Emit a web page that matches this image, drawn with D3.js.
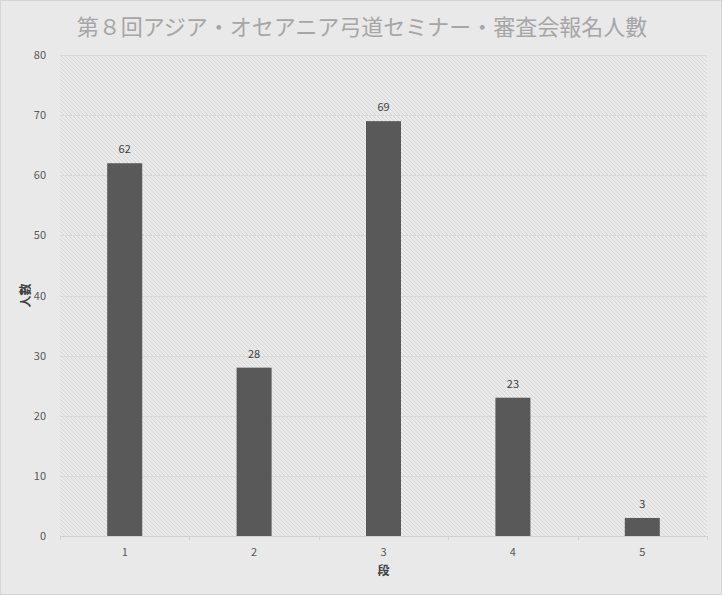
<!DOCTYPE html>
<meta charset="utf-8">
<style>
body { margin: 0; background: #fff; }
text { font-family: "Noto Sans CJK JP", "DejaVu Sans", sans-serif; }
</style>
<body>
<script src="https://d3js.org/d3.v7.min.js"></script>
<script>

var title = "第８回アジア・オセアニア弓道セミナー・審査会報名人數";
var categories = ["1", "2", "3", "4", "5"];
var counts = [62, 28, 69, 23, 3];
var yTicks = [0, 10, 20, 30, 40, 50, 60, 70, 80];

var w = 723, h = 596;
var margin = {top: 55, right: 16, bottom: 60, left: 60};
var width = w - margin.left - margin.right,
    height = h - margin.top - margin.bottom;

var svg = d3.select("body").append("svg")
    .attr("width", w)
    .attr("height", h);

// hatch pattern for plot area
var pat = svg.append("defs").append("pattern")
    .attr("id", "hatch")
    .attr("patternUnits", "userSpaceOnUse")
    .attr("width", 4).attr("height", 4);
pat.append("rect").attr("width", 4).attr("height", 4).attr("fill", "#eaeaea");
pat.append("path")
    .attr("d", "M-1,-1 L5,5 M-1,3 L1,5 M3,-1 L5,1")
    .attr("stroke", "#d6d6d6").attr("stroke-width", 1);

// chart background + border
svg.append("rect")
    .attr("x", 0.5).attr("y", 0.5)
    .attr("width", w - 2).attr("height", h - 2)
    .attr("fill", "#e9e9e9")
    .attr("stroke", "#d6d6d6");

svg.append("text")
    .attr("x", 362).attr("y", 35)
    .attr("text-anchor", "middle")
    .attr("font-size", "22px")
    .attr("fill", "#a6a6a6")
    .text(title);

var g = svg.append("g").attr("transform", "translate(" + margin.left + "," + margin.top + ")");

var x = d3.scaleBand().domain(categories).range([0, width]).paddingInner(0).paddingOuter(0);
var y = d3.scaleLinear().domain([0, 80]).range([height, 0]);

g.append("rect")
    .attr("width", width).attr("height", height)
    .attr("fill", "url(#hatch)");

// gridlines
g.selectAll(".grid")
    .data(yTicks.slice(1))
    .enter().append("line")
    .attr("x1", 0).attr("x2", width)
    .attr("y1", function(d) { return Math.round(y(d)) + 0.5; })
    .attr("y2", function(d) { return Math.round(y(d)) + 0.5; })
    .attr("stroke", "#d9d9d9");

// y axis labels
var yAxis = d3.axisLeft(y).tickValues(yTicks).tickSize(0).tickPadding(14);
var ya = g.append("g").call(yAxis);
ya.select(".domain").remove();
ya.selectAll("text").attr("font-size", "11px").attr("fill", "#595959")
    .style("font-family", "'Noto Sans CJK JP', sans-serif");

// bars
var barW = 35;
g.selectAll(".bar")
    .data(counts)
    .enter().append("rect")
    .attr("x", function(d, i) { return x(categories[i]) + x.bandwidth() / 2 - barW / 2; })
    .attr("y", function(d) { return y(d); })
    .attr("width", barW)
    .attr("height", function(d) { return height - y(d); })
    .attr("fill", "#595959");

g.selectAll(".lbl")
    .data(counts)
    .enter().append("text")
    .attr("x", function(d, i) { return x(categories[i]) + x.bandwidth() / 2; })
    .attr("y", function(d) { return y(d) - 10; })
    .attr("text-anchor", "middle")
    .attr("font-size", "11px")
    .attr("fill", "#404040")
    .text(function(d) { return d; });

// x axis
var xa = g.append("g").attr("transform", "translate(0," + height + ")");
xa.append("line").attr("x1", 0).attr("x2", width).attr("y1", 0.5).attr("y2", 0.5)
    .attr("stroke", "#d0d0d0");
xa.selectAll(".tk")
    .data(d3.range(categories.length + 1))
    .enter().append("line")
    .attr("x1", function(i) { return Math.round(i * x.step()) + 0.5; })
    .attr("x2", function(i) { return Math.round(i * x.step()) + 0.5; })
    .attr("y1", 0).attr("y2", 4)
    .attr("stroke", "#d0d0d0");
xa.selectAll(".xl")
    .data(categories)
    .enter().append("text")
    .attr("x", function(d) { return x(d) + x.bandwidth() / 2; })
    .attr("y", 20)
    .attr("text-anchor", "middle")
    .attr("font-size", "11px")
    .attr("fill", "#595959")
    .text(function(d) { return d; });

// axis titles
svg.append("text")
    .attr("x", margin.left + width / 2).attr("y", 575)
    .attr("text-anchor", "middle")
    .attr("font-size", "12px").attr("font-weight", "bold")
    .attr("fill", "#404040")
    .text("段");

svg.append("text")
    .attr("transform", "translate(30," + (margin.top + height / 2) + ") rotate(-90)")
    .attr("text-anchor", "middle")
    .attr("font-size", "12px").attr("font-weight", "bold")
    .attr("fill", "#404040")
    .text("人數");

</script>
</body>
